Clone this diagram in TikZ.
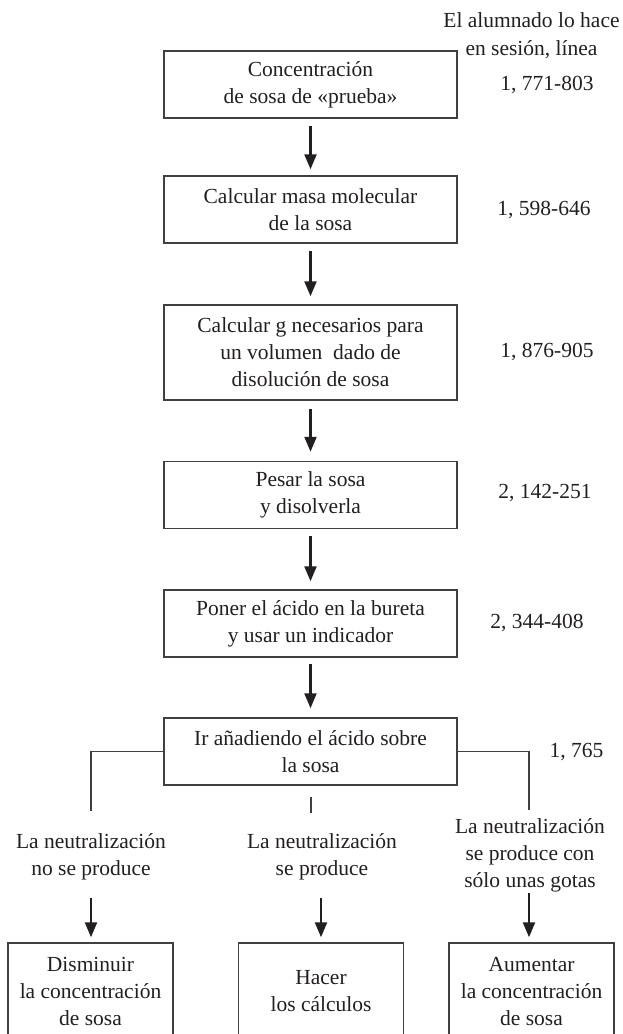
\documentclass[tikz,border=0pt]{standalone}
\usepackage{fontspec}
\setmainfont{Liberation Serif}
\usetikzlibrary{arrows.meta}
\definecolor{ink}{HTML}{231F20}
\definecolor{edge}{HTML}{404040}
\begin{document}
\begin{tikzpicture}[x=1pt,y=-1pt,
  every node/.style={text=ink,font=\fontsize{21.5}{27}\selectfont,align=center,inner sep=0pt},
  box/.style={draw=edge,line width=1.5pt,minimum width=293pt,minimum height=67pt},
  endbox/.style={draw=edge,line width=1.5pt,minimum width=165pt,minimum height=97pt},
  arr/.style={draw=ink,line width=2.3pt,-{Triangle[length=15pt,width=12pt]}},
  conn/.style={draw=edge,line width=1.4pt},
  ref/.style={}]
\useasboundingbox (0,0) rectangle (622,1034);
\clip (0,0) rectangle (622,1034);
% header
\node[font=\fontsize{21.5}{28}\selectfont] (head) at (531.5,36) {El alumnado lo hace\\en sesión, línea};
% main column
\node[box] (b1) at (310.5,84.5) {Concentración\\de sosa de «prueba»};
\node[box] (b2) at (310.5,209.5) {Calcular masa molecular\\de la sosa};
\node[box,minimum height=95pt] (b3) at (310.5,352.5) {Calcular g necesarios para\\un volumen~ dado de\\disolución de sosa};
\node[box] (b4) at (310.5,495) {Pesar la sosa\\y disolverla};
\node[box] (b5) at (310.5,623.5) {Poner el ácido en la bureta\\y usar un indicador};
\node[box] (b6) at (310.5,751.5) {Ir añadiendo el ácido sobre\\la sosa};
% references
\node[ref] (r1) at (547,85) {1, 771-803};
\node[ref] (r2) at (544,210) {1, 598-646};
\node[ref] (r3) at (547,352) {1, 876-905};
\node[ref] (r4) at (545,493) {2, 142-251};
\node[ref] (r5) at (537,623) {2, 344-408};
\node[ref] (r6) at (576.5,752) {1, 765};
% arrows main column
\draw[arr,shorten <=7pt,shorten >=6pt] (b1) -- (b2);
\draw[arr,shorten <=7pt,shorten >=8pt] (b2) -- (b3);
\draw[arr,shorten <=8pt,shorten >=9pt] (b3) -- (b4);
\draw[arr,shorten <=7pt,shorten >=8pt] (b4) -- (b5);
\draw[arr,shorten <=6pt,shorten >=9pt] (b5) -- (b6);
% branches
\coordinate (lend) at (91,811);
\coordinate (rend) at (529,810);
\coordinate (mtop) at (311,797);
\coordinate (mbot) at (311,813);
\draw[conn] (b6.west) -| (lend);
\draw[conn] (b6.east) -| (rend);
\draw[conn] (mtop) -- (mbot);
% outcome labels
\node (ol) at (91,856.5) {La neutralización\\no se produce};
\node (om) at (322,856.5) {La neutralización\\se produce};
\node (or) at (530,855.5) {La neutralización\\se produce con\\sólo unas gotas};
% end boxes
\node[endbox] (el) at (90.5,991.5) {Disminuir\\la concentración\\de sosa};
\node[endbox] (em) at (321,991.5) {Hacer\\los cálculos};
\node[endbox] (er) at (531.5,991.5) {Aumentar\\la concentración\\de sosa};
\coordinate (al) at (91,898);
\coordinate (am) at (321,898);
\coordinate (ar) at (529,893);
\draw[arr,shorten >=5pt] (al) -- (al |- el.north);
\draw[arr,shorten >=5pt] (am) -- (am |- em.north);
\draw[arr,shorten >=5pt] (ar) -- (ar |- er.north);
\end{tikzpicture}
\end{document}
